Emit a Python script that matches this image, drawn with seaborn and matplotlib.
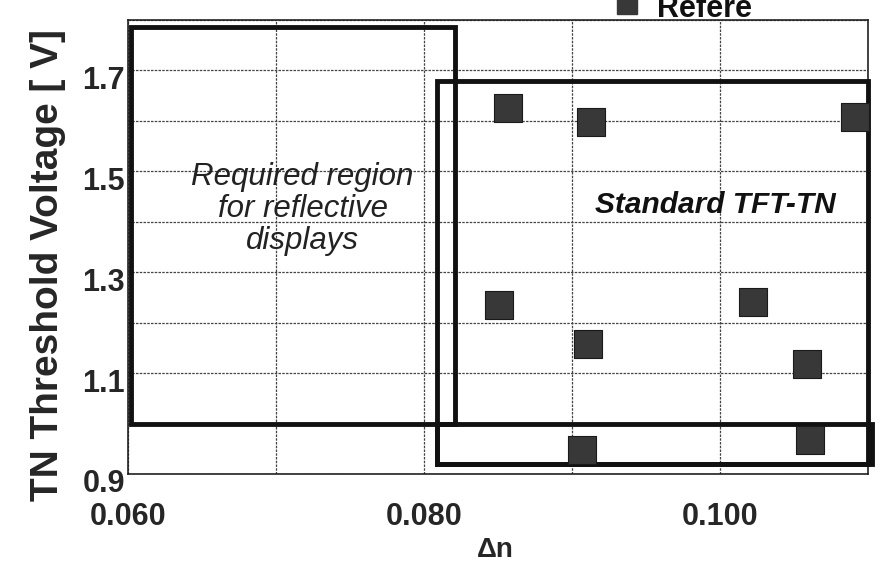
import matplotlib
matplotlib.use("Agg")
import matplotlib.pyplot as plt
import matplotlib.transforms as mtransforms
import seaborn as sns
import pandas as pd
from matplotlib.patches import Rectangle
from matplotlib.lines import Line2D

# ---- data ----
delta_n = [0.0857, 0.0913, 0.1091, 0.0851, 0.0911, 0.1022, 0.1059, 0.0907, 0.1061]
threshold_v = [1.626, 1.598, 1.608, 1.235, 1.158, 1.241, 1.118, 0.948, 0.967]
series_label = "Refere"

x_ticks = [0.060, 0.080, 0.100]
x_tick_labels = ["0.060", "0.080", "0.100"]
y_ticks = [0.9, 1.1, 1.3, 1.5, 1.7]
y_tick_labels = ["0.9", "1.1", "1.3", "1.5", "1.7"]

# regions (x0, x1, y0, y1)
required_region = [0.0602, 0.0821, 1.0, 1.787]
standard_region = [0.0809, 0.1100, 0.92, 1.68]
low_region = [0.0809, 0.1103, 0.92, 1.0]

required_text = "Required region\nfor reflective\ndisplays"
standard_text = "Standard TFT-TN"

sns.set_theme(style="white")
plt.rcParams['font.family'] = ['Liberation Sans', 'DejaVu Sans']

fig = plt.figure(figsize=(8.86, 5.63), dpi=100)
ax = fig.add_axes([128/886, 1-474/563, 740/886, 454/563])

df = pd.DataFrame({"dn": delta_n, "v": threshold_v})
sns.scatterplot(data=df, x="dn", y="v", marker="s", s=430, color="#383838",
                edgecolor="#1a1a1a", linewidth=0.8, ax=ax, zorder=5, clip_on=False)

ax.set_xlim(0.060, 0.110)
ax.set_ylim(0.9, 1.8)

ax.set_xticks(x_ticks)
ax.set_xticklabels(x_tick_labels)
ax.set_xticks([0.07, 0.09, 0.11], minor=True)
ax.set_yticks(y_ticks)
ax.set_yticklabels(y_tick_labels)
ax.set_yticks([1.0, 1.2, 1.4, 1.6, 1.8], minor=True)
ax.grid(True, which="both", color="#444444", lw=0.9, ls=(0, (2, 1)))
ax.tick_params(axis="both", which="both", length=0, labelsize=22)
ax.tick_params(axis="x", pad=20)
ax.tick_params(axis="y", pad=2)
shift = mtransforms.ScaledTranslation(0, -5/72, fig.dpi_scale_trans)
for lab in ax.get_yticklabels():
    lab.set_fontweight("bold")
    lab.set_transform(lab.get_transform() + shift)
for lab in ax.get_xticklabels():
    lab.set_fontweight("bold")

for sp in ax.spines.values():
    sp.set_color("#222222")
    sp.set_linewidth(1.2)

for (x0, x1, y0, y1) in [required_region, standard_region, low_region]:
    ax.add_patch(Rectangle((x0, y0), x1 - x0, y1 - y0, fill=False,
                           edgecolor="#111111", lw=3.5, zorder=4, clip_on=False))

ax.text(0.0718, 1.425, required_text, ha="center", va="center", fontsize=22.5,
        style="italic", color="#222222", linespacing=1.1)
ax.text(0.0997, 1.434, standard_text, ha="center", va="center", fontsize=21.5,
        style="italic", fontweight="bold", color="#111111")

ax.set_xlabel("\u0394n", fontsize=20, fontweight="bold")
ax.xaxis.set_label_coords(0.497, -0.139)
ax.set_ylabel("TN Threshold Voltage [ V]", fontsize=28, fontweight="bold")
ax.yaxis.set_label_coords(-0.084, 0.46)

# legend (cut off at the top edge as in the reference)
fig.add_artist(Line2D([627/886], [1 - 4/563], marker="s", ls="", color="#383838",
                      markersize=14, transform=fig.transFigure))
fig.text(657/886, 1 - 17/563, series_label, ha="left", va="baseline",
         fontsize=22, fontweight="bold", color="#111111")

fig.savefig("out.png", dpi=100)
